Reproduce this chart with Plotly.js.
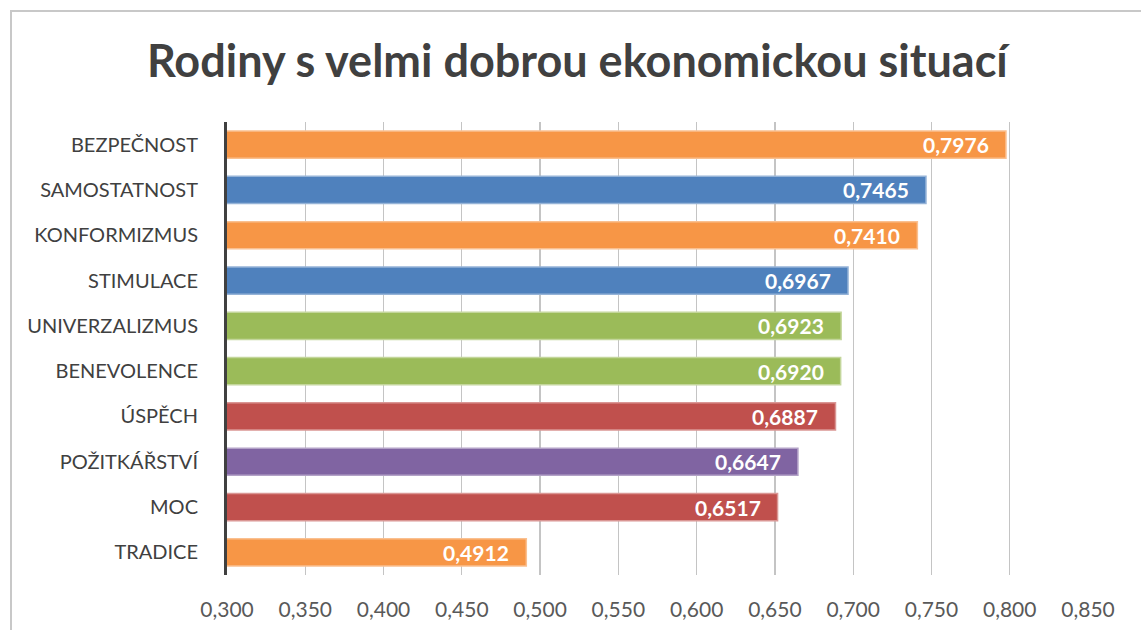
<!DOCTYPE html>
<html>
<head>
<meta charset="utf-8">
<script src="https://cdn.plot.ly/plotly-3.0.1.min.js"></script>
<style>
  html, body { margin: 0; padding: 0; background: #fff; overflow: hidden; }
  #wrap { position: relative; width: 1141px; height: 630px; }
  #chart { width: 1141px; height: 630px; }
  #frame { position: absolute; left: 10px; top: 10px; width: 1200px; height: 700px;
           border: 2px solid #C8C8C8; box-sizing: border-box; pointer-events: none; }
</style>
</head>
<body>
<div id="wrap">
  <div id="chart"></div>
  <div id="frame"></div>
</div>
<script>
const categories = ["BEZPEČNOST", "SAMOSTATNOST", "KONFORMIZMUS", "STIMULACE", "UNIVERZALIZMUS",
                    "BENEVOLENCE", "ÚSPĚCH", "POŽITKÁŘSTVÍ", "MOC", "TRADICE"];
const values = [0.7976, 0.7465, 0.7410, 0.6967, 0.6923, 0.6920, 0.6887, 0.6647, 0.6517, 0.4912];
const barColors = ["#F79646", "#4F81BD", "#F79646", "#4F81BD", "#9BBB59",
                   "#9BBB59", "#C0504D", "#8064A2", "#C0504D", "#F79646"];
const borderColors = ["#FAC090", "#95B3D7", "#FAC090", "#95B3D7", "#C3D69B",
                      "#C3D69B", "#DA9694", "#B3A2C7", "#DA9694", "#FAC090"];
const tickVals = [0.30, 0.35, 0.40, 0.45, 0.50, 0.55, 0.60, 0.65, 0.70, 0.75, 0.80, 0.85];
const tickText = ["0,300", "0,350", "0,400", "0,450", "0,500", "0,550", "0,600", "0,650", "0,700", "0,750", "0,800", "0,850"];
const titleText = "Rodiny s velmi dobrou ekonomickou situací";

const labels = values.map(v => v.toFixed(4).replace(".", ","));

const trace = {
  type: "bar",
  orientation: "h",
  x: values,
  y: categories,
  width: 0.6,
  marker: { color: barColors, line: { color: borderColors, width: 1.5 } },
  hoverinfo: "none"
};

const annotations = values.map((v, i) => ({
  x: v, y: categories[i], xref: "x", yref: "y",
  text: labels[i], showarrow: false,
  xanchor: "right", yanchor: "middle", xshift: -15,
  font: { family: "Lato, sans-serif", size: 21, color: "#FFFFFF", weight: "bold" }
}));

const layout = {
  width: 1141, height: 630,
  margin: { l: 227, r: 53, t: 122, b: 55 },
  paper_bgcolor: "#FFFFFF", plot_bgcolor: "#FFFFFF",
  showlegend: false,
  separators: ",.",
  title: {
    text: "<b>" + titleText + "</b>",
    font: { family: "Lato, sans-serif", size: 45, color: "#404040" },
    xref: "container", yref: "container", x: 0.506, y: 0.902, xanchor: "center", yanchor: "middle"
  },
  xaxis: {
    range: [0.3, 0.85],
    tickmode: "array", tickvals: tickVals, ticktext: tickText,
    showgrid: true, gridcolor: "#C4C4C4", gridwidth: 1.3,
    zeroline: false, showline: false,
    ticks: "outside", ticklen: 16, tickcolor: "rgba(0,0,0,0)",
    tickfont: { family: "Lato, sans-serif", size: 21, color: "#595959" },
    fixedrange: true
  },
  yaxis: {
    autorange: "reversed",
    showgrid: false, zeroline: false,
    showline: true, linecolor: "#404040", linewidth: 3,
    ticks: "outside", ticklen: 22, tickcolor: "rgba(0,0,0,0)",
    tickfont: { family: "Lato, sans-serif", size: 20, color: "#404040" },
    fixedrange: true
  },
  annotations: annotations
};

Plotly.newPlot("chart", [trace], layout, { displayModeBar: false, staticPlot: true });
</script>
</body>
</html>
